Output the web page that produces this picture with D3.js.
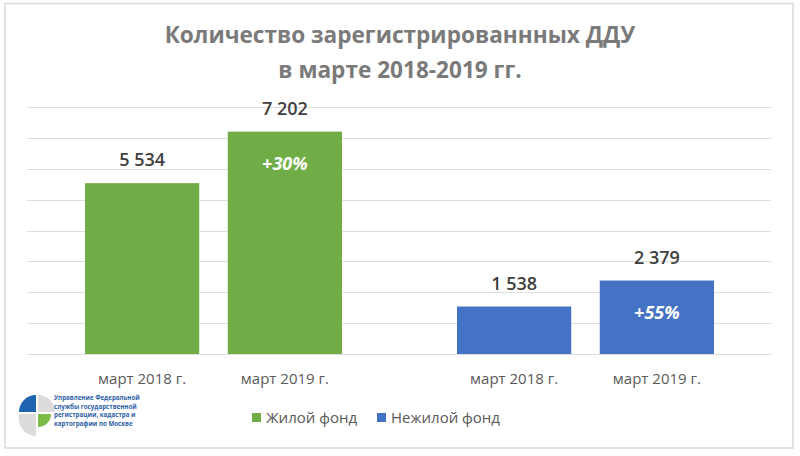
<!DOCTYPE html>
<html><head><meta charset="utf-8">
<script src="https://cdn.jsdelivr.net/npm/d3@7"></script>
<style>body{margin:0;background:#fff}svg{display:block}</style>
</head><body>
<svg id="c" width="800" height="456"></svg>
<script>
const titleLines = ["Количество зарегистрированнных ДДУ", "в марте 2018-2019 гг."];
const groups = ["Жилой фонд", "Нежилой фонд"];
const periods = ["март 2018 г.", "март 2019 г."];
const zhiloy = [5534, 7202];
const nezhiloy = [1538, 2379];
const growthLabels = ["+30%", "+55%"];
const colors = ["#70ad47", "#4472c4"];
const yTicks = [0,1000,2000,3000,4000,5000,6000,7000,8000];
const logoText = ["Управление Федеральной", "службы государственной", "регистрации, кадастра и", "картографии по Москве"];

(function(){
const seriesValues = [zhiloy, nezhiloy];
const svg = d3.select("#c");
svg.append("rect").attr("x",5).attr("y",3.5).attr("width",788).attr("height",444.5)
  .attr("fill","#fff").attr("stroke","#d9d9d9").attr("stroke-width",1.5);

const pLeft = 27, pRight = 771, pTop = 107, pBottom = 354;
const y = d3.scaleLinear().domain([0, 8000]).range([pBottom, pTop]);
const x0 = d3.scaleBand().domain(groups).range([pLeft, pRight]).padding(0);
const x1 = d3.scaleBand().domain(periods).range([58, 315]).paddingInner(0.2).paddingOuter(0);

// gridlines
svg.append("g").selectAll("line").data(yTicks).join("line")
  .attr("x1", pLeft).attr("x2", pRight)
  .attr("y1", d => Math.round(y(d))+0.5).attr("y2", d => Math.round(y(d))+0.5)
  .attr("stroke", "#dedede").attr("stroke-width", 1);

// title
svg.append("g").selectAll("text").data(titleLines).join("text")
  .attr("x", 400).attr("y", (d,i) => 43 + i*35)
  .attr("text-anchor","middle").attr("font-family","Open Sans").attr("font-weight","bold")
  .attr("font-size", 22.6).attr("fill","#7a7a7a").text(d => d);

groups.forEach((g, gi) => {
  const gg = svg.append("g").attr("transform", `translate(${x0(g)},0)`);
  const data = periods.map((p, pi) => ({p, v: seriesValues[gi][pi], pi}));
  gg.selectAll("rect").data(data).join("rect")
    .attr("x", d => x1(d.p)).attr("width", x1.bandwidth())
    .attr("y", d => y(d.v)).attr("height", d => y(0) - y(d.v))
    .attr("fill", colors[gi]);
  gg.selectAll("text.val").data(data).join("text").attr("class","val")
    .attr("x", d => x1(d.p) + x1.bandwidth()/2).attr("y", d => y(d.v) - 17)
    .attr("text-anchor","middle").attr("font-family","Open Sans").attr("font-weight",600)
    .attr("font-size", 18).attr("fill","#404040")
    .text(d => d3.format(",")(d.v).replace(/,/g, " "));
  gg.selectAll("text.lab").data(data).join("text").attr("class","lab")
    .attr("x", d => x1(d.p) + x1.bandwidth()/2).attr("y", 384)
    .attr("text-anchor","middle").attr("font-family","Open Sans")
    .attr("font-size", 15).attr("fill","#595959").text(d => d.p);
  const last = data[data.length-1];
  gg.append("text")
    .attr("x", x1(last.p) + x1.bandwidth()/2).attr("y", y(last.v) + 38)
    .attr("text-anchor","middle").attr("font-family","Open Sans").attr("font-weight","bold")
    .attr("font-style","italic").attr("font-size", 18).attr("fill","#fff").text(growthLabels[gi]);
});

// legend
const legX = [252, 377];
groups.forEach((g, i) => {
  svg.append("rect").attr("x", legX[i]).attr("y", 413).attr("width", 9).attr("height", 9).attr("fill", colors[i]);
  svg.append("text").attr("x", legX[i] + 14).attr("y", 423)
    .attr("font-family","Open Sans").attr("font-size", 15).attr("fill","#595959").text(g);
});

// logo
const lg = svg.append("g").attr("transform","translate(37,413)");
const arc = d3.arc().innerRadius(0);
lg.append("path").attr("d", arc({outerRadius:17, startAngle:-Math.PI/2, endAngle:0})).attr("fill","#1f64b0").attr("transform","translate(-1,-1)");
lg.append("path").attr("d", arc({outerRadius:17, startAngle:0, endAngle:Math.PI/2})).attr("fill","#dcdcdc").attr("transform","translate(1,-1)");
lg.append("path").attr("d", arc({outerRadius:13, startAngle:Math.PI/2, endAngle:Math.PI})).attr("fill","#7cbb45").attr("transform","translate(1,1)");
lg.append("path").attr("d", "M-1,1 L-1,23 A18,18 0 0 1 -18,1 Z").attr("fill","#dcdcdc");
svg.append("g").selectAll("text").data(logoText).join("text")
  .attr("x", 54).attr("y", (d,i) => 400 + i*8.5)
  .attr("font-family","Open Sans").attr("font-weight","bold").attr("font-size", 6.2)
  .attr("fill","#2d5fa6").text(d => d);
})();
</script>
</body></html>
